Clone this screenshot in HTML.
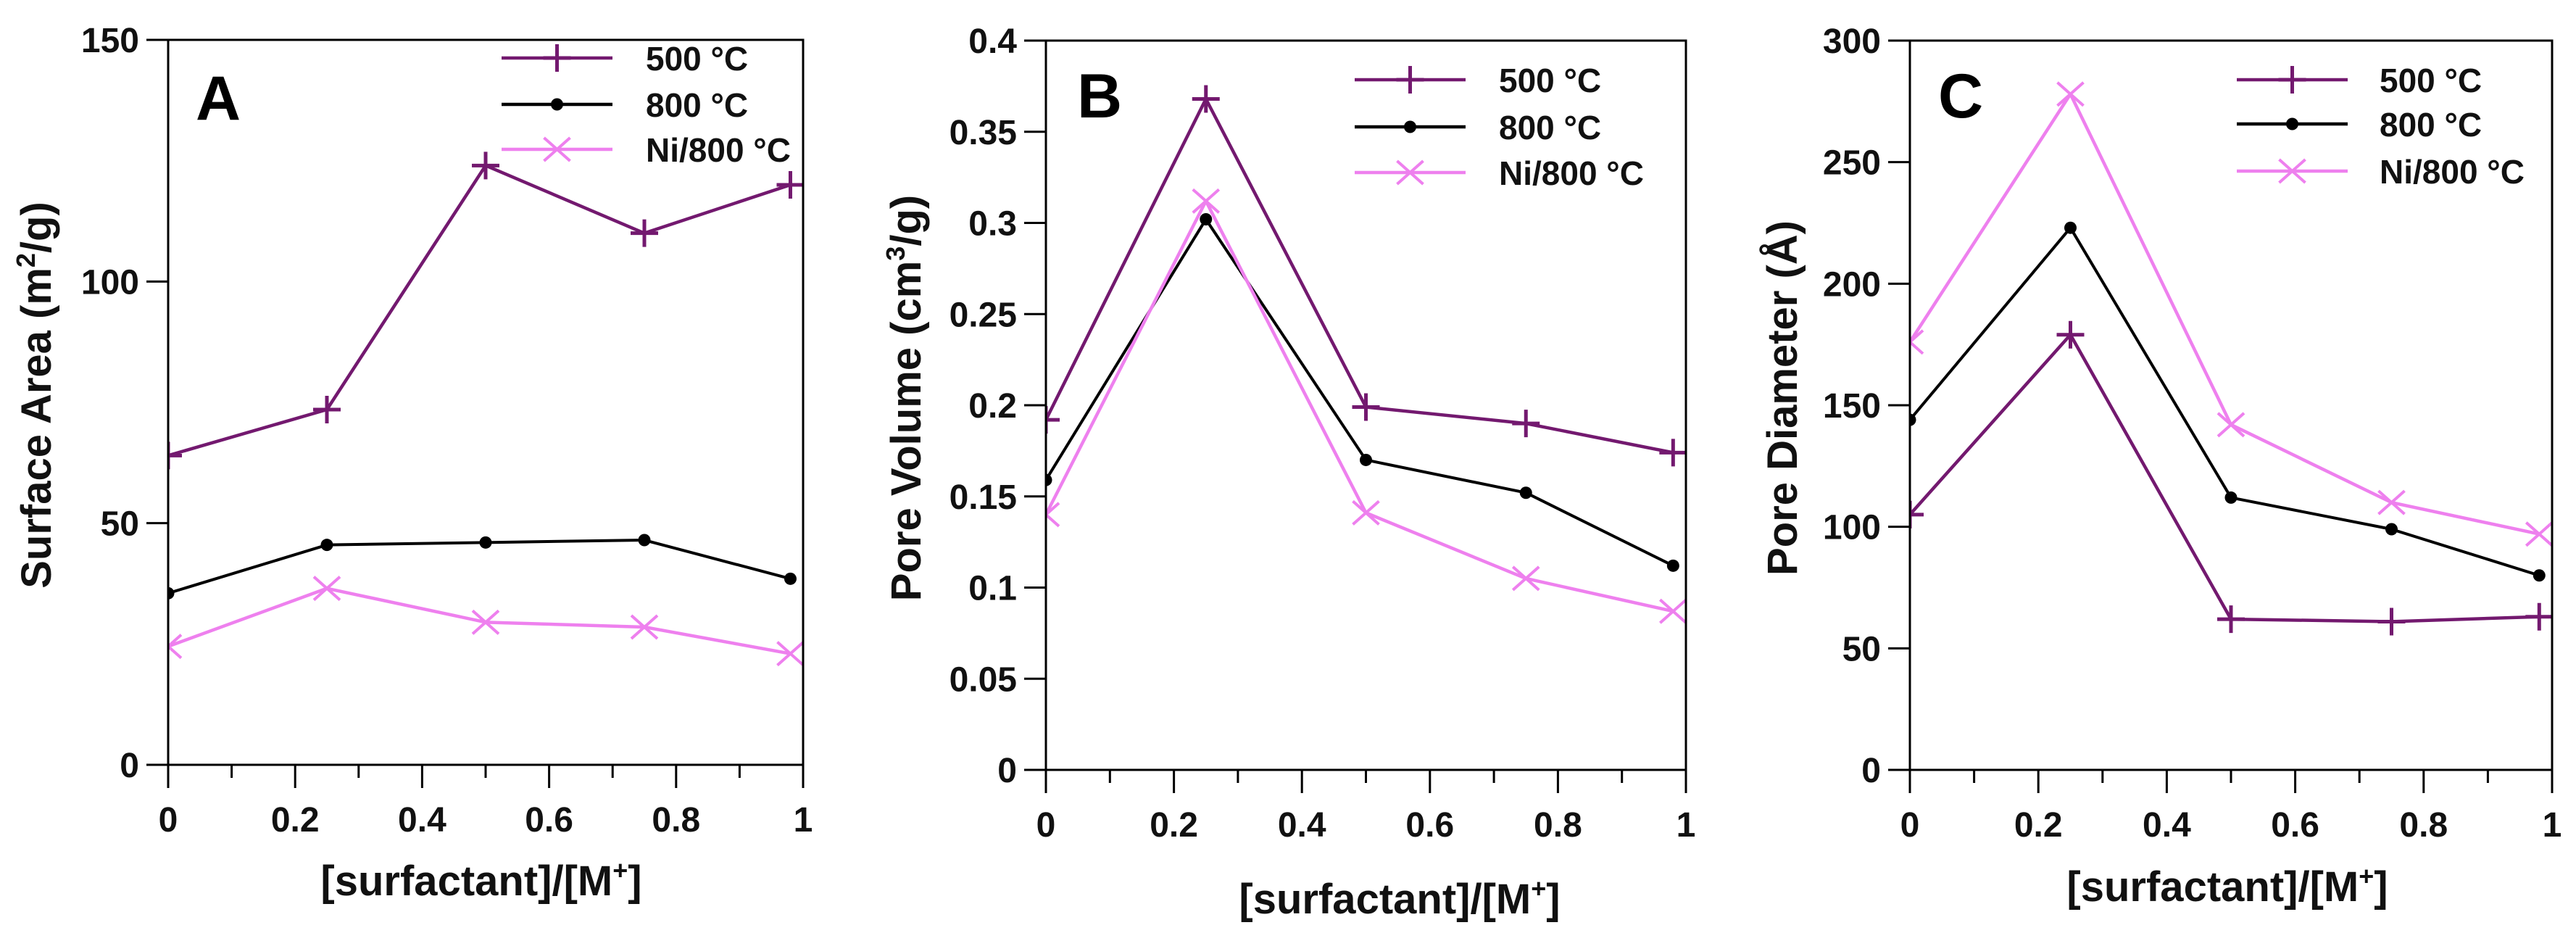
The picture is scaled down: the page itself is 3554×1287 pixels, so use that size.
<!DOCTYPE html>
<html><head><meta charset="utf-8"><style>
html,body{margin:0;padding:0;background:#fff;}
svg{display:block;font-family:"Liberation Sans",Arial,sans-serif;font-weight:bold;}
</style></head><body>
<svg id="fig" width="3554" height="1287" viewBox="0 0 3554 1287" xmlns="http://www.w3.org/2000/svg"></svg>
<script>
const xValues = [0, 0.25, 0.5, 0.75, 0.98];
const xTicks = [0, 0.2, 0.4, 0.6, 0.8, 1];
const xTickLabels = ["0", "0.2", "0.4", "0.6", "0.8", "1"];
const seriesNames = ["500 °C", "800 °C", "Ni/800 °C"];

const areaA500 = [64, 73.5, 124, 110, 120];
const areaA800 = [35.5, 45.5, 46, 46.5, 38.5];
const areaANi = [24.5, 36.5, 29.5, 28.5, 23];
const ticksA = [0, 50, 100, 150];
const tickLabelsA = ["0", "50", "100", "150"];

const volB500 = [0.192, 0.368, 0.199, 0.19, 0.174];
const volB800 = [0.159, 0.302, 0.17, 0.152, 0.112];
const volBNi = [0.14, 0.312, 0.141, 0.105, 0.087];
const ticksB = [0, 0.05, 0.1, 0.15, 0.2, 0.25, 0.3, 0.35, 0.4];
const tickLabelsB = ["0", "0.05", "0.1", "0.15", "0.2", "0.25", "0.3", "0.35", "0.4"];

const diaC500 = [105, 179, 62, 61, 63];
const diaC800 = [144, 223, 112, 99, 80];
const diaCNi = [176, 278, 142, 110, 97];
const ticksC = [0, 50, 100, 150, 200, 250, 300];
const tickLabelsC = ["0", "50", "100", "150", "200", "250", "300"];

const NS = "http://www.w3.org/2000/svg";
const svg = document.getElementById('fig');
const COLORS = ["#73196f", "#000000", "#ee80ee"];

function mk(tag, attrs, parent) {
  const e = document.createElementNS(NS, tag);
  for (const k in attrs) e.setAttribute(k, attrs[k]);
  (parent || svg).appendChild(e);
  return e;
}

function marker(g, kind, x, y, color) {
  if (kind === 0) {
    const m = mk('path', {d: `M${x-19},${y}H${x+19}M${x},${y-19}V${y+19}`, stroke: color, 'stroke-width': 5, fill: 'none'}, g);
    return m;
  } else if (kind === 1) {
    return mk('circle', {cx: x, cy: y, r: 8.5, fill: color}, g);
  } else {
    return mk('path', {d: `M${x-18},${y-16}L${x+18},${y+16}M${x-18},${y+16}L${x+18},${y-16}`, stroke: color, 'stroke-width': 4, fill: 'none'}, g);
  }
}

function panel(cfg) {
  const {id, L, R, T, B, ymax, ticks, tickLabels, series, letter, letterX, letterY, ytitle, ytitleX, xtitleX, xtitleY, leg} = cfg;
  const g = mk('g', {});
  
  
  const sx = v => L + (R - L) * v;
  const sy = v => B - (B - T) * v / ymax;

  const clip = mk('clipPath', {id: 'clip' + id}, g);
  mk('rect', {x: L, y: T, width: R - L, height: B - T}, clip);

  // series
  series.forEach((vals, si) => {
    const sg = mk('g', {'clip-path': `url(#clip${id})`}, g);
    
    
    const pts = vals.map((v, i) => sx(xValues[i]) + ',' + sy(v)).join(' ');
    const pl = mk('polyline', {points: pts, fill: 'none', stroke: COLORS[si], 'stroke-width': si === 1 ? 4 : 4.5, 'stroke-linejoin': 'round'}, sg);
    
    
    vals.forEach((v, i) => {
      const m = marker(sg, si, sx(xValues[i]), sy(v), COLORS[si]);
      
      
    });
  });

  // frame
  const fr = mk('rect', {x: L, y: T, width: R - L, height: B - T, fill: 'none', stroke: '#000', 'stroke-width': 3}, g);
  
  

  // y ticks
  ticks.forEach((t, i) => {
    const y = sy(t);
    mk('line', {x1: L - 30, x2: L, y1: y, y2: y, stroke: '#000', 'stroke-width': 3}, g);
    const tx = mk('text', {x: L - 40, y: y + 17, 'text-anchor': 'end', 'font-size': 48, fill: '#111'}, g);
    tx.textContent = tickLabels[i];
    
    
  });
  // x ticks
  xTicks.forEach((t, i) => {
    const x = sx(t);
    mk('line', {x1: x, x2: x, y1: B, y2: B + 32, stroke: '#000', 'stroke-width': 3}, g);
    const tx = mk('text', {x: x, y: B + 92, 'text-anchor': 'middle', 'font-size': 48, fill: '#111'}, g);
    tx.textContent = xTickLabels[i];
    
    
    if (i < xTicks.length - 1) {
      const xm = sx(t + 0.1);
      mk('line', {x1: xm, x2: xm, y1: B, y2: B + 18, stroke: '#000', 'stroke-width': 3}, g);
    }
  });

  // letter
  const lt = mk('text', {x: letterX, y: letterY, 'font-size': 86, fill: '#000'}, g);
  lt.textContent = letter;
  
  

  // y title
  const yt = mk('text', {x: 0, y: 0, 'text-anchor': 'middle', 'font-size': 58, fill: '#111', transform: `translate(${ytitleX + 20},${(T + B) / 2 - 10}) rotate(-90)`}, g);
  yt.innerHTML = ytitle;
  
  

  // x title
  const xt = mk('text', {x: xtitleX, y: xtitleY + 20, 'text-anchor': 'middle', 'font-size': 58, fill: '#111'}, g);
  xt.innerHTML = '[surfactant]/[M<tspan font-size="36" dy="-22">+</tspan><tspan dy="22">]</tspan>';
  
  

  // legend
  const lg = mk('g', {}, g);
  
  
  seriesNames.forEach((n, si) => {
    const y = leg.ys[si];
    const eg = mk('g', {}, lg);
    
    
    mk('line', {x1: leg.x1, x2: leg.x2, y1: y, y2: y, stroke: COLORS[si], 'stroke-width': 4.5}, eg);
    marker(eg, si, (leg.x1 + leg.x2) / 2, y, COLORS[si]);
    const t = mk('text', {x: leg.tx, y: y + 17, 'font-size': 46, fill: '#111'}, eg);
    t.textContent = n;
  });
}

panel({id: 'a', L: 232, R: 1108, T: 55, B: 1055, ymax: 150, ticks: ticksA, tickLabels: tickLabelsA,
  series: [areaA500, areaA800, areaANi], letter: 'A', letterX: 270, letterY: 165,
  ytitle: 'Surface Area (m<tspan font-size="36" dy="-22">2</tspan><tspan dy="22">/g)</tspan>', ytitleX: 50,
  xtitleX: 664, xtitleY: 1215, leg: {x1: 692, x2: 845, tx: 891, ys: [80, 144, 206]}});

panel({id: 'b', L: 1443, R: 2326, T: 56, B: 1062, ymax: 0.4, ticks: ticksB, tickLabels: tickLabelsB,
  series: [volB500, volB800, volBNi], letter: 'B', letterX: 1486, letterY: 162,
  ytitle: 'Pore Volume (cm<tspan font-size="36" dy="-22">3</tspan><tspan dy="22">/g)</tspan>', ytitleX: 1250,
  xtitleX: 1931, xtitleY: 1240, leg: {x1: 1869, x2: 2022, tx: 2068, ys: [110, 175, 238]}});

panel({id: 'c', L: 2635, R: 3521, T: 56, B: 1062, ymax: 300, ticks: ticksC, tickLabels: tickLabelsC,
  series: [diaC500, diaC800, diaCNi], letter: 'C', letterX: 2674, letterY: 162,
  ytitle: 'Pore Diameter (Å)', ytitleX: 2459,
  xtitleX: 3073, xtitleY: 1223, leg: {x1: 3086, x2: 3239, tx: 3283, ys: [110, 171, 236]}});
</script>
</body></html>
